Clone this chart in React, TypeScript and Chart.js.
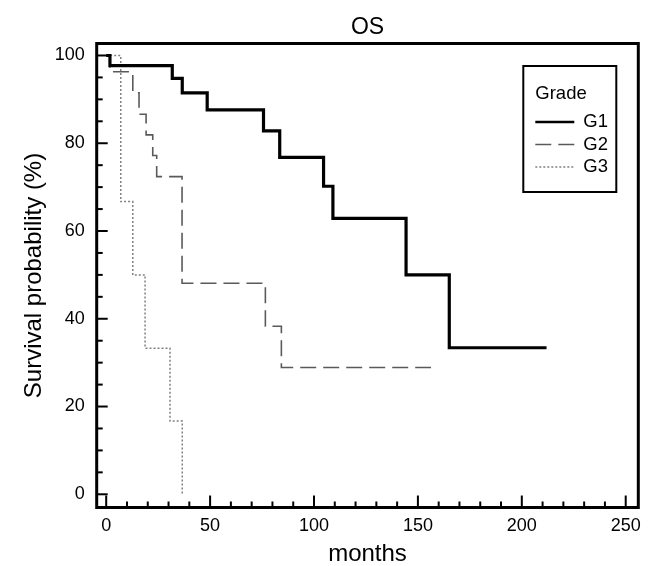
import React, { useEffect, useRef } from "react";
import { Chart, registerables } from "chart.js";

Chart.register(...registerables);

// ---- data ----
const seriesNames = ["G1", "G2", "G3"];
const g1Months = [0, 1.8, 31.8, 36.6, 48.6, 75.7, 83.5, 104.6, 109.1, 144.3, 165.1, 211.9];
const g1Surv = [100, 97.7, 94.8, 91.5, 87.6, 82.8, 76.8, 70.2, 62.9, 50.0, 33.4, 33.4];
const g2Months = [0, 1.8, 12.8, 15.8, 19.2, 22.4, 24.3, 36.5, 76.6, 84.3, 156.3];
const g2Surv = [100, 96.3, 91.5, 86.6, 81.9, 77.2, 72.4, 48.1, 38.3, 28.9, 28.9];
const g3Months = [0, 7.0, 12.8, 18.7, 30.7, 36.6];
const g3Surv = [100, 66.7, 50.0, 33.3, 16.7, 0];

// ---- axes ----
const xMajorTicks = [0, 50, 100, 150, 200, 250];
const xMinorTicks = [10, 20, 30, 40, 60, 70, 80, 90, 110, 120, 130, 140, 160, 170, 180, 190, 210, 220, 230, 240];
const yMajorTicks = [0, 20, 40, 60, 80, 100];
const yMinorTicks = [5, 10, 15, 25, 30, 35, 45, 50, 55, 65, 70, 75, 85, 90, 95];

const titleText = "OS";
const xTitle = "months";
const yTitle = "Survival probability (%)";
const legendTitle = "Grade";

const FONT = "'Liberation Sans', Arial, Helvetica, sans-serif";

const framePlugin = {
  id: "frameTicksLegend",
  afterDatasetsDraw(chart: any) {
    const { ctx, chartArea: a, scales } = chart;
    const x = scales.x;
    const y = scales.y;
    ctx.save();
    ctx.strokeStyle = "#000";
    ctx.lineCap = "butt";
    const seg = (x1: number, y1: number, x2: number, y2: number) => {
      ctx.beginPath();
      ctx.moveTo(x1, y1);
      ctx.lineTo(x2, y2);
      ctx.stroke();
    };
    ctx.lineWidth = 2;
    yMajorTicks.forEach((v) => {
      const p = y.getPixelForValue(v);
      seg(a.left, p, a.left + 11, p);
    });
    yMinorTicks.forEach((v) => {
      const p = y.getPixelForValue(v);
      seg(a.left, p, a.left + 6, p);
    });
    xMajorTicks.forEach((v) => {
      const p = x.getPixelForValue(v);
      seg(p, a.bottom, p, a.bottom - 12);
    });
    xMinorTicks.forEach((v) => {
      const p = x.getPixelForValue(v);
      seg(p, a.bottom, p, a.bottom - 6);
    });
    ctx.lineWidth = 3;
    ctx.strokeRect(a.left, a.top, a.right - a.left, a.bottom - a.top);

    // legend box
    const lw = 93;
    const lh = 126;
    const lx = a.right - 22 - lw;
    const ly = a.top + 22.5;
    ctx.fillStyle = "#fff";
    ctx.fillRect(lx, ly, lw, lh);
    ctx.lineWidth = 2;
    ctx.strokeRect(lx, ly, lw, lh);
    ctx.fillStyle = "#000";
    ctx.font = `18.5px ${FONT}`;
    ctx.textBaseline = "middle";
    ctx.textAlign = "left";
    ctx.fillText(legendTitle, lx + 12, ly + 28);
    const rows = [ly + 56, ly + 78.5, ly + 101];
    chart.data.datasets.forEach((ds: any, i: number) => {
      const ry = rows[i];
      ctx.save();
      ctx.strokeStyle = ds.borderColor;
      ctx.lineWidth = Math.min(ds.borderWidth, 2.5);
      ctx.setLineDash(ds.borderDash || []);
      seg(lx + 12, ry, lx + 51, ry);
      ctx.restore();
      ctx.fillStyle = "#000";
      ctx.fillText(ds.label, lx + 60, ry);
    });
    ctx.restore();
  },
};

export default function App() {
  const ref = useRef<HTMLCanvasElement | null>(null);
  useEffect(() => {
    if (!ref.current) return;
    const toPts = (xs: number[], ys: number[]) => xs.map((m, i) => ({ x: m, y: ys[i] }));
    const chart = new Chart(ref.current, {
      type: "line",
      data: {
        datasets: [
          {
            label: seriesNames[0],
            data: toPts(g1Months, g1Surv),
            borderColor: "#000000",
            borderWidth: 3.2,
            stepped: "before",
            pointRadius: 0,
            fill: false,
          },
          {
            label: seriesNames[1],
            data: toPts(g2Months, g2Surv),
            borderColor: "#5a5a5a",
            borderWidth: 1.6,
            borderDash: [16, 7],
            stepped: "before",
            pointRadius: 0,
            fill: false,
          },
          {
            label: seriesNames[2],
            data: toPts(g3Months, g3Surv),
            borderColor: "#808080",
            borderWidth: 1.5,
            borderDash: [2, 2],
            stepped: "before",
            pointRadius: 0,
            fill: false,
          },
        ],
      },
      options: {
        responsive: false,
        animation: false,
        devicePixelRatio: 1,
        layout: { padding: { left: 0, top: 0, right: 11.7, bottom: 0 } },
        plugins: {
          legend: { display: false },
          tooltip: { enabled: false },
          title: {
            display: true,
            text: titleText,
            fullSize: false,
            color: "#000",
            font: { size: 23, family: FONT, weight: "normal", lineHeight: 1.2 },
            padding: { top: 14, bottom: 1.9 },
          },
        },
        scales: {
          x: {
            type: "linear",
            min: -4.57,
            max: 256.06,
            grid: { display: false, drawTicks: false },
            border: { display: false },
            afterBuildTicks: (s: any) => {
              s.ticks = xMajorTicks.map((v) => ({ value: v }));
            },
            afterFit: (s: any) => {
              s.height = 58.5;
            },
            ticks: {
              color: "#000",
              padding: 7.4,
              maxRotation: 0,
              autoSkip: false,
              font: { size: 18, family: FONT },
            },
            title: {
              display: true,
              text: xTitle,
              color: "#000",
              font: { size: 24, family: FONT, lineHeight: 1 },
              padding: { top: 0, bottom: 0 },
            },
          },
          y: {
            type: "linear",
            min: -3.01,
            max: 102.73,
            grid: { display: false, drawTicks: false },
            border: { display: false },
            afterBuildTicks: (s: any) => {
              s.ticks = yMajorTicks.map((v) => ({ value: v }));
            },
            afterFit: (s: any) => {
              s.width = 96.7;
            },
            ticks: {
              color: "#000",
              padding: 12,
              autoSkip: false,
              font: { size: 18, family: FONT },
            },
            title: {
              display: true,
              text: yTitle,
              color: "#000",
              font: { size: 24, family: FONT, lineHeight: 1.2 },
              padding: { top: 20, bottom: 0 },
            },
          },
        },
      },
      plugins: [framePlugin],
    });
    return () => chart.destroy();
  }, []);
  return (
    <div style={{ position: "absolute", left: 0, top: 0, width: 650, height: 566, background: "#fff" }}>
      <canvas ref={ref} width={650} height={566} style={{ display: "block" }} />
    </div>
  );
}
